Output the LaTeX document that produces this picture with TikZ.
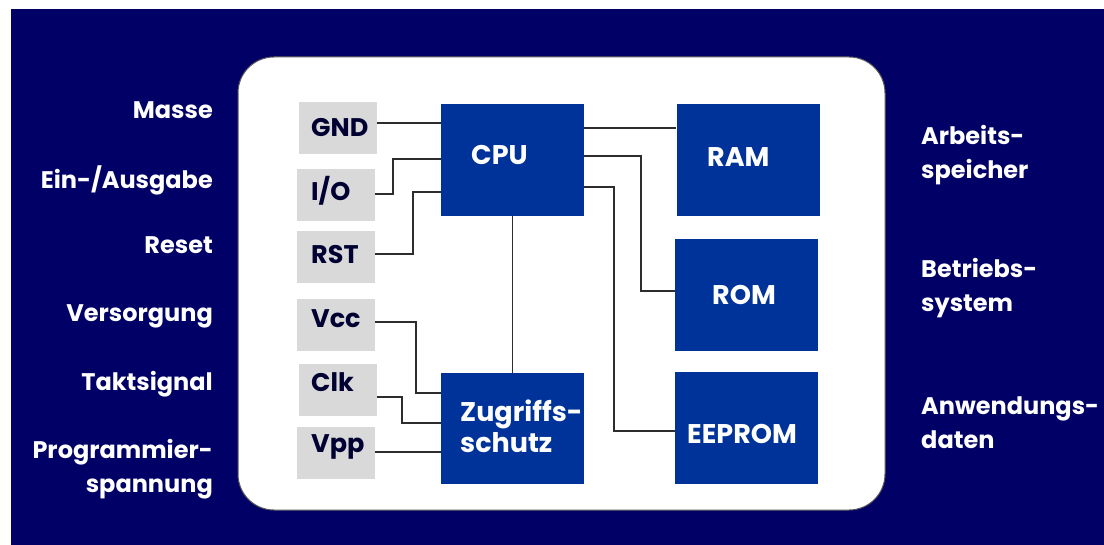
\documentclass[tikz,border=0pt]{standalone}
\usepackage{fontspec}
\setmainfont{Poppins}
\definecolor{navy}{RGB}{0,0,102}
\definecolor{boxblue}{RGB}{0,51,153}
\definecolor{pingray}{RGB}{217,217,217}
\definecolor{pintext}{RGB}{0,0,51}
\definecolor{wirecol}{RGB}{45,45,45}
\begin{document}
\begin{tikzpicture}[x=1pt,y=-1pt,
  blk/.style={fill=boxblue, inner sep=0, minimum width=143pt, minimum height=112pt},
  pinbox/.style={fill=pingray, inner sep=0, minimum width=78pt, minimum height=52pt},
  pintxt/.style={anchor=base west, inner sep=0, text=pintext, font=\bfseries\fontsize{25.5}{25.5}\selectfont},
  blktxt/.style={anchor=base west, inner sep=0, text=white, font=\bfseries\fontsize{27}{27}\selectfont},
  sidel/.style={anchor=base east, inner sep=0, text=white, font=\bfseries\fontsize{24}{24}\selectfont},
  sider/.style={anchor=base west, inner sep=0, text=white, font=\bfseries\fontsize{24}{24}\selectfont},
  conn/.style={draw=wirecol, line width=1.9pt}]
\useasboundingbox (0,0) rectangle (1104,545);
\fill[white] (0,0) rectangle (1104,545);
\fill[navy] (11,9) rectangle (1104,545);
% card
\draw[fill=white, draw=black!65, line width=1pt, rounded corners=36pt] (238,57) rectangle (885,510);
% pins
\node[pinbox] (gnd) at (337.5,128.5) {};
\node[pinbox] (io)  at (336,195.5) {};
\node[pinbox] (rst) at (336,257.5) {};
\node[pinbox] (vcc) at (336,325) {};
\node[pinbox] (clk) at (338,390) {};
\node[pinbox] (vpp) at (336,453) {};
\node[pintxt] (tgnd) at (311,137) {GND};
\node[pintxt] (tio)  at (311,201) {I/O};
\node[pintxt] (trst) at (311,264) {RST};
\node[pintxt] (tvcc) at (311,328) {Vcc};
\node[pintxt] (tclk) at (311,392) {Clk};
\node[pintxt] (tvpp) at (311,453) {Vpp};
% blocks
\node[blk] (cpu) at (512.5,160) {};
\node[blk, minimum height=111pt] (zug) at (512.5,428.5) {};
\node[blk] (ram) at (748,160) {};
\node[blk] (rom) at (746.5,295) {};
\node[blk] (eep) at (746.5,428) {};
\node[blktxt] (tcpu) at (471,165) {CPU};
\node[blktxt] (tzug1) at (460,422) {Zugriffs-};
\node[blktxt] (tzug2) at (460,453) {schutz};
\node[blktxt] (tram) at (707,167) {RAM};
\node[blktxt] (trom) at (712,305) {ROM};
\node[blktxt] (teep) at (687,444) {EEPROM};
% left labels
\node[sidel] (lm) at (213,119) {Masse};
\node[sidel] (le) at (213,189) {Ein-/Ausgabe};
\node[sidel] (lr) at (213,254) {Reset};
\node[sidel] (lv) at (213,322) {Versorgung};
\node[sidel] (lt) at (213,391) {Taktsignal};
\node[sidel] (lp1) at (213,458) {Programmier-};
\node[sidel] (lp2) at (213,492) {spannung};
% right labels
\node[sider] (ra1) at (921,145) {Arbeits-};
\node[sider] (ra2) at (921,179) {speicher};
\node[sider] (rb1) at (921,278) {Betriebs-};
\node[sider] (rb2) at (921,312) {system};
\node[sider] (rc1) at (921,415) {Anwendungs-};
\node[sider] (rc2) at (921,449) {daten};
% connectors
\draw[conn] (gnd.east |- 0,123) -- (cpu.west |- 0,123);
\draw[conn] (io.east |- 0,194) -| (393,159) -- (cpu.west |- 0,159);
\draw[conn] (rst.east |- 0,254) -| (413,192) -- (cpu.west |- 0,192);
\draw[conn] (cpu.south) -- (zug.north);
\draw[conn] (vcc.east |- 0,322) -| (416,393) -- (zug.west |- 0,393);
\draw[conn] (clk.east |- 0,397) -| (402,423) -- (zug.west |- 0,423);
\draw[conn] (vpp.east |- 0,452) -- (zug.west |- 0,452);
\draw[conn] (cpu.east |- 0,128) -- (ram.west |- 0,128);
\draw[conn] (cpu.east |- 0,156) -| (641,291) -- (rom.west |- 0,291);
\draw[conn] (cpu.east |- 0,187) -| (614,431) -- (eep.west |- 0,431);
\end{tikzpicture}
\end{document}
